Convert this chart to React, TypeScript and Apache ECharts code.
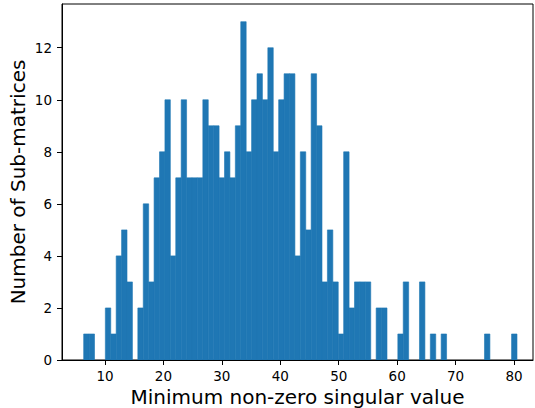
import React, { useEffect, useRef } from "react";
import * as echarts from "echarts";

// Histogram: 80 bins of equal width starting at binStart
const binStart = 6.35;
const binWidth = 0.927;
const counts = [
  1, 1, 0, 0, 2, 1, 4, 5, 3, 0,
  2, 6, 3, 7, 8, 10, 4, 7, 10, 7,
  7, 7, 10, 9, 9, 7, 8, 7, 9, 13,
  8, 10, 11, 10, 12, 8, 10, 11, 11, 4,
  8, 5, 11, 9, 3, 5, 3, 1, 8, 2,
  3, 3, 3, 0, 2, 2, 0, 0, 1, 3,
  0, 0, 3, 0, 1, 0, 1, 0, 0, 0,
  0, 0, 0, 0, 1, 0, 0, 0, 0, 1,
];
const xTicks = [10, 20, 30, 40, 50, 60, 70, 80];
const yTicks = [0, 2, 4, 6, 8, 10, 12];
const xLabel = "Minimum non-zero singular value";
const yLabel = "Number of Sub-matrices";

export default function App() {
  const ref = useRef<HTMLDivElement>(null);
  useEffect(() => {
    document.body.style.margin = "0";
    const chart = echarts.init(ref.current!, null, { renderer: "svg" });
    const data = counts.map((c, i) => [
      binStart + i * binWidth,
      binStart + (i + 1) * binWidth,
      c,
    ]);
    const font = "DejaVu Sans";
    chart.setOption({
      animation: false,
      backgroundColor: "#fff",
      grid: {
        left: 62,
        right: 2,
        top: 4,
        bottom: 48,
        show: true,
        borderColor: "#000",
        borderWidth: 1,
        outerBoundsMode: "none",
        containLabel: false,
      },
      xAxis: {
        type: "value",
        min: 2.64,
        max: 83.25,
        splitLine: { show: false },
        axisLine: { show: true, lineStyle: { color: "#000", width: 1 } },
        axisTick: {
          show: true,
          length: 5,
          lineStyle: { color: "#000", width: 1 },
          customValues: xTicks,
        },
        axisLabel: {
          customValues: xTicks,
          color: "#000",
          fontFamily: font,
          fontSize: 13.5,
          margin: 9,
        },
        name: xLabel,
        nameLocation: "middle",
        nameGap: 27,
        nameMoveOverlap: false,
        nameTextStyle: {
          color: "#000",
          fontFamily: font,
          fontSize: 20,
          lineHeight: 20,
        },
      },
      yAxis: {
        type: "value",
        min: 0,
        max: 13.68,
        splitLine: { show: false },
        axisLine: { show: true, lineStyle: { color: "#000", width: 1 } },
        axisTick: {
          show: true,
          length: 5,
          lineStyle: { color: "#000", width: 1 },
          customValues: yTicks,
        },
        axisLabel: {
          customValues: yTicks,
          color: "#000",
          fontFamily: font,
          fontSize: 13.5,
          margin: 10,
        },
        name: yLabel,
        nameLocation: "middle",
        nameRotate: 90,
        nameGap: 34,
        nameMoveOverlap: false,
        nameTextStyle: {
          color: "#000",
          fontFamily: font,
          fontSize: 20,
          lineHeight: 20,
        },
      },
      series: [
        {
          type: "custom",
          clip: true,
          encode: { x: [0, 1], y: 2 },
          data,
          renderItem: (params: any, api: any) => {
            const h = api.value(2);
            if (!h) return null;
            const p0 = api.coord([api.value(0), h]);
            const p1 = api.coord([api.value(1), 0]);
            return {
              type: "rect",
              shape: {
                x: p0[0],
                y: p0[1],
                width: p1[0] - p0[0],
                height: p1[1] - p0[1],
              },
              style: { fill: "#1f77b4", stroke: "#1f77b4", lineWidth: 0.6 },
            };
          },
        },
      ],
    });
    return () => chart.dispose();
  }, []);
  return <div ref={ref} style={{ width: 535, height: 408 }} />;
}
